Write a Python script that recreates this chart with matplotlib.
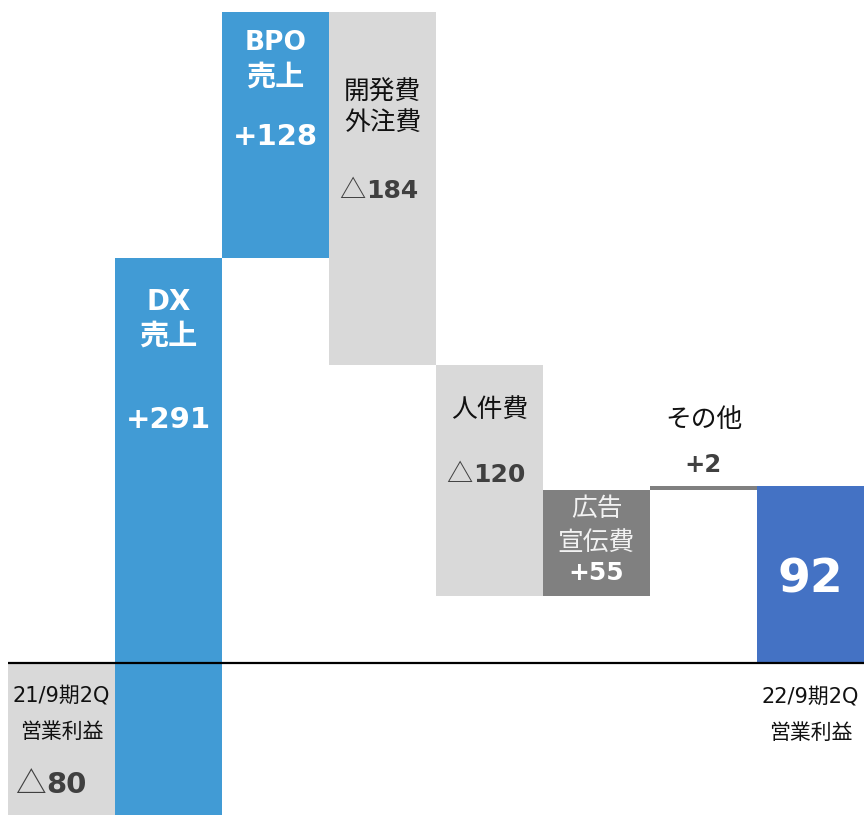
import matplotlib
matplotlib.use("Agg")
import matplotlib.pyplot as plt

# DejaVu for latin (Verdana-like), Noto CJK for Japanese
plt.rcParams["font.family"] = ["DejaVu Sans", "Noto Sans CJK JP"]

# waterfall steps
steps = ["start", "DX", "BPO", "dev", "staff", "ad", "other", "end"]
deltas = [-80, 291, 128, -184, -120, 55, 2]
end_value = 92

BLUE = "#419BD5"
DARK_BLUE = "#4472C4"
LIGHT = "#D9D9D9"
MID = "#808080"
VALUE = "#404040"
colors = [LIGHT, BLUE, BLUE, LIGHT, LIGHT, MID, MID, DARK_BLUE]

# bottoms / heights from cumulative sums
bottoms, heights = [], []
level = 0
for i, d in enumerate(deltas):
    if i == 0:
        bottoms.append(0)
        heights.append(d)
    else:
        bottoms.append(min(level, level + d))
        heights.append(abs(d))
    level += d
bottoms.append(0)
heights.append(end_value)

fig = plt.figure(figsize=(8.64, 8.15), dpi=100)
ax = fig.add_axes([0, 0, 1, 1])
x = list(range(len(steps)))
ax.bar(x, heights, bottom=bottoms, width=1.0, color=colors, linewidth=0)
ax.hlines(0, -0.5, 7.5, color="black", lw=1.6, zorder=3)

ax.set_xlim(-0.5 - 8 / 107, 7.5)
ax.set_ylim(-152 / 1.92, 663 / 1.92)
ax.axis("off")


def label(xc, y, s, size=15, color="#111111", weight="normal"):
    ax.text(xc, y, s, ha="center", va="center", fontsize=size, color=color, fontweight=weight)


def tri_value(xc, split, y, num, size=20):
    ax.text(xc + split, y, "△", ha="right", va="center", fontsize=size * 1.05,
            color=VALUE, family=["Noto Sans CJK JP"])
    ax.text(xc + split + 0.01, y, num, ha="left", va="center", fontsize=size,
            color=VALUE, fontweight="bold")


# start
label(0, -16.7, "21/9期2Q", 15)
label(0, -35.9, "営業利益", 15)
tri_value(0, -0.15, -63.5, "80", 21)

# DX
label(1, 188, "DX", 20, "white", "bold")
label(1, 170, "売上", 21, "white", "bold")
label(1, 126.6, "+291", 21, "white", "bold")

# BPO
label(2, 323, "BPO", 19, "white", "bold")
label(2, 305, "売上", 21, "white", "bold")
label(2, 274, "+128", 21, "white", "bold")

# dev / outsourcing
label(3, 297, "開発費", 18.5)
label(3, 281.5, "外注費", 18.5)
tri_value(3, -0.16, 246, "184", 18)

# staff
label(4, 132, "人件費", 18.5)
tri_value(4, -0.16, 98, "120", 18)

# ad
label(5, 80, "広告", 18.5, "#F2F2F2")
label(5, 62.5, "宣伝費", 18.5, "#F2F2F2")
label(5, 47, "+55", 18, "white", "bold")

# other
label(6, 126.6, "その他", 18.5)
label(6, 103, "+2", 17.5, VALUE, "bold")

# end
label(7, 43, "92", 34, "white", "bold")
label(7, -17.7, "22/9期2Q", 15)
label(7, -36.5, "営業利益", 15)

fig.savefig("out.png", dpi=100)
